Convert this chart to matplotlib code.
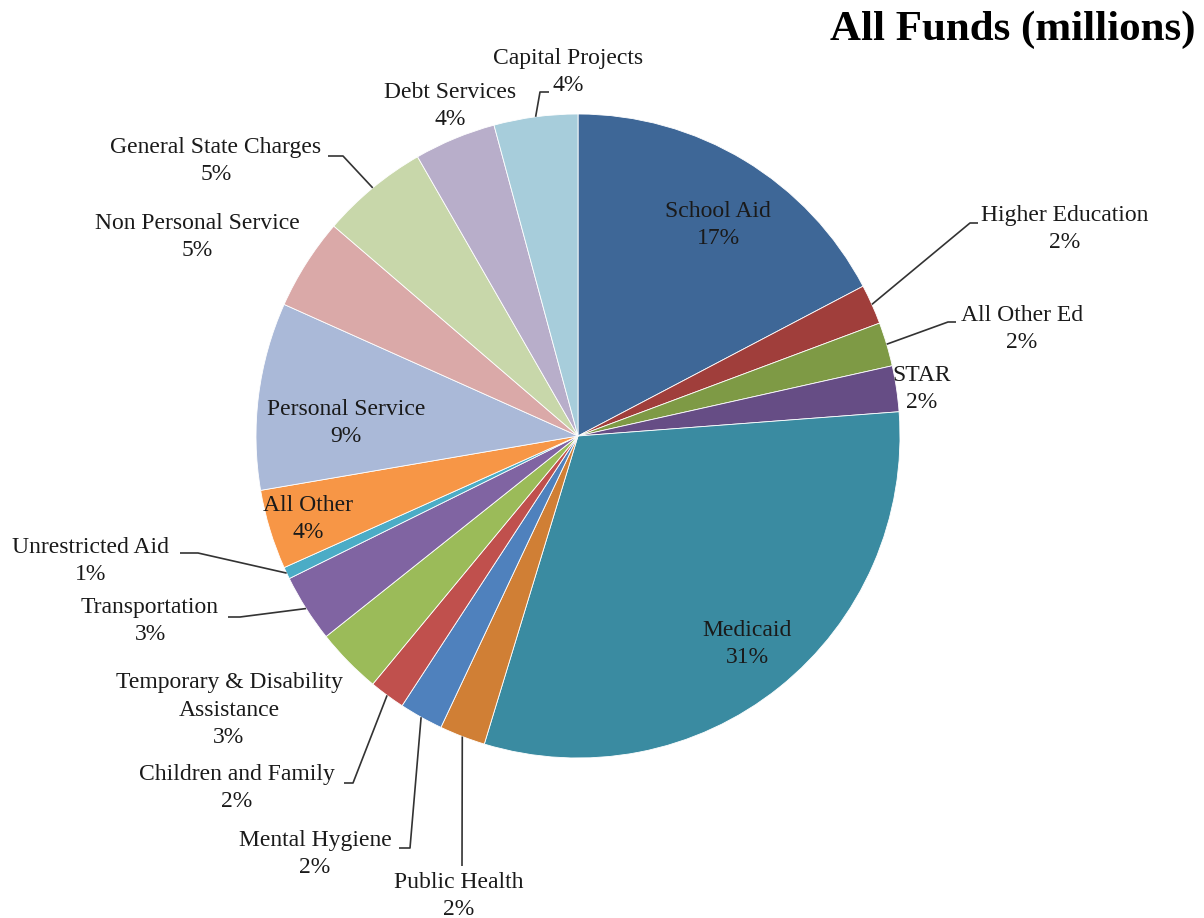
import matplotlib
matplotlib.use("Agg")
import numpy as np
import matplotlib.pyplot as plt

plt.rcParams["font.family"] = ["Liberation Serif", "DejaVu Serif"]

# 各项支出占比（顺时针，从12点方向开始）
categories = [
    "School Aid", "Higher Education", "All Other Ed", "STAR", "Medicaid",
    "Public Health", "Mental Hygiene", "Children and Family",
    "Temporary & Disability\nAssistance", "Transportation", "Unrestricted Aid",
    "All Other", "Personal Service", "Non Personal Service",
    "General State Charges", "Debt Services", "Capital Projects",
]
shares = [17.3, 2.0, 2.2, 2.3, 30.9, 2.3, 2.2, 1.8, 3.3, 3.4, 0.6,
          4.0, 9.4, 4.6, 5.4, 4.1, 4.2]
colors = [
    "#3E6797", "#A03E3B", "#7E9A45", "#664D85", "#3A8BA1",
    "#D07F35", "#4F81BD", "#C0504D", "#9BBB59", "#8064A2", "#4BACC6",
    "#F79646", "#AAB9D8", "#DAA9A8", "#C8D7AA", "#B8AECA", "#A7CDDB",
]

W, H = 1204, 918
CX, CY, R = 578, 436, 322

# 标签位置（像素，自上而下），引线折点；None 表示无引线
label_pos = {
    "School Aid": (718, 225, None),
    "Higher Education": (1065, 229, [(978, 223), (970, 223)]),
    "All Other Ed": (1022, 329, [(956, 322), (948, 322)]),
    "STAR": (922, 389, None),
    "Medicaid": (747, 644, None),
    "Public Health": (459, 896, [(462, 866)]),
    "Mental Hygiene": (315, 854, [(399, 848), (410, 848)]),
    "Children and Family": (237, 788, [(344, 783), (353, 783)]),
    "Temporary & Disability\nAssistance": (229, 710, None),
    "Transportation": (150, 621, [(228, 617), (240, 617)]),
    "Unrestricted Aid": (91, 561, [(180, 553), (198, 553)]),
    "All Other": (308, 519, None),
    "Personal Service": (346, 423, None),
    "Non Personal Service": (197, 237, None),
    "General State Charges": (216, 161, [(328, 156), (343, 156)]),
    "Debt Services": (450, 106, None),
    "Capital Projects": (568, 72, [(549, 92), (540, 92)]),
}

fig = plt.figure(figsize=(W / 100, H / 100), dpi=100)
ax = fig.add_axes([0, 0, 1, 1])

wedges, _ = ax.pie(
    shares,
    colors=colors,
    startangle=90,
    counterclock=False,
    center=(CX, H - CY),
    radius=R,
    wedgeprops=dict(edgecolor="white", linewidth=0.6),
)
ax.set_xlim(0, W)
ax.set_ylim(0, H)
ax.set_aspect("equal")
ax.axis("off")

total = sum(shares)
for w, name, val in zip(wedges, categories, shares):
    x, y, leader = label_pos[name]
    pct = val / total * 100
    ax.text(x, H - y, f"{name}\n{pct:.0f}%", ha="center", va="center",
            fontsize=17, linespacing=1.42, color="#1a1a1a")
    if leader:
        mid = np.deg2rad((w.theta1 + w.theta2) / 2)
        ex = CX + R * np.cos(mid)
        ey = (H - CY) + R * np.sin(mid)
        xs = [ex] + [p[0] for p in leader[::-1]]
        ys = [ey] + [H - p[1] for p in leader[::-1]]
        ax.plot(xs, ys, color="#333333", linewidth=1.2, solid_capstyle="butt")

ax.text(1196, H - 30, "All Funds (millions)", ha="right", va="center",
        fontsize=31, fontweight="bold", color="black")

fig.savefig("out.png", dpi=100)
